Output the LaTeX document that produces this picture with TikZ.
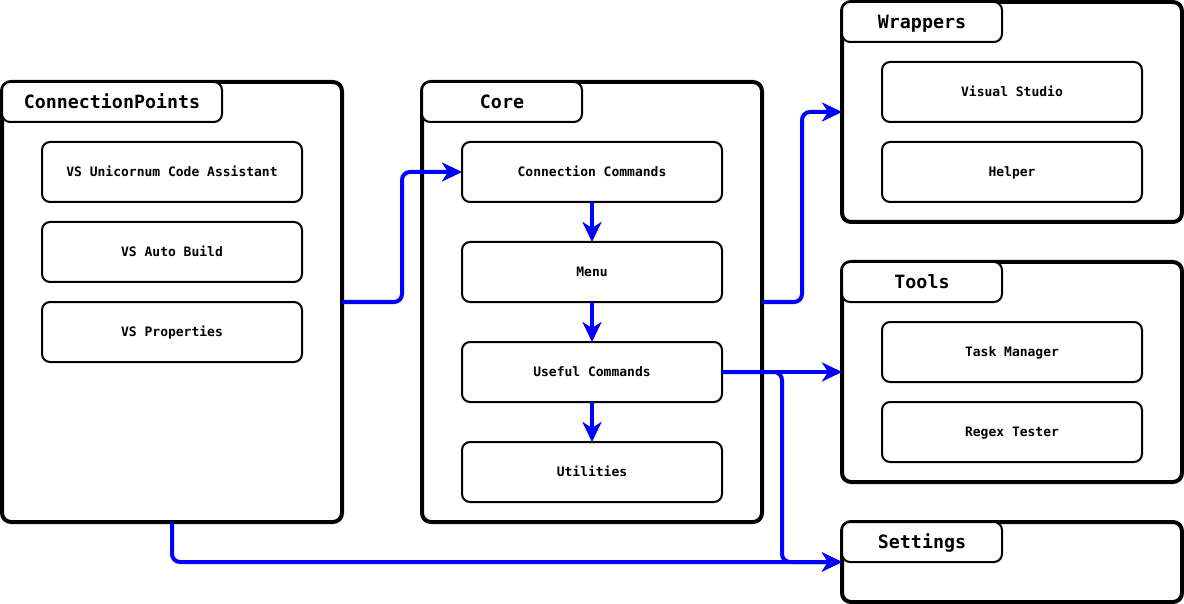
\documentclass[tikz,border=0pt]{standalone}
\usepackage{fontspec}
\newfontfamily\codefont{DejaVu Sans Mono}
\usetikzlibrary{arrows.meta,calc}
\tikzset{
  container/.style={draw=black, line width=4pt, rounded corners=9pt, fill=white, inner sep=0pt, outer sep=0pt},
  titlebox/.style={draw=black, line width=2pt, rounded corners=8pt, fill=white, inner sep=0pt, outer sep=0pt, minimum height=40pt, text height=14.34pt, text depth=1pt, font=\codefont\bfseries\fontsize{18.3pt}{20pt}\selectfont, anchor=north west},
  item/.style={draw=black, line width=2pt, rounded corners=8pt, fill=white, inner sep=0pt, outer sep=0pt, minimum width=260pt, minimum height=60pt, text height=10.48pt, text depth=1pt, font=\codefont\bfseries\fontsize{13pt}{15pt}\selectfont},
  flow/.style={draw=blue, line width=4pt, rounded corners=8pt, -{Stealth[length=20pt,width=19pt,inset=6pt]}},
}
\begin{document}
\begin{tikzpicture}[x=1pt,y=-1pt]
\useasboundingbox (0,0) rectangle (1184,604);
% containers
\node[container, minimum width=340pt, minimum height=440pt] (cp) at (172,302) {};
\node[container, minimum width=340pt, minimum height=440pt] (core) at (592,302) {};
\node[container, minimum width=340pt, minimum height=220pt] (wr) at (1012,112) {};
\node[container, minimum width=340pt, minimum height=220pt] (tl) at (1012,372) {};
\node[container, minimum width=340pt, minimum height=80pt] (st) at (1012,562) {};
% titles
\node[titlebox, minimum width=220pt] (cpt) at (cp.north west) {ConnectionPoints};
\node[titlebox, minimum width=160pt] (coret) at (core.north west) {Core};
\node[titlebox, minimum width=160pt] (wrt) at (wr.north west) {Wrappers};
\node[titlebox, minimum width=160pt] (tlt) at (tl.north west) {Tools};
\node[titlebox, minimum width=160pt] (stt) at (st.north west) {Settings};
% items
\node[item] (vsu) at (172,172) {VS Unicornum Code Assistant};
\node[item] (vsa) at (172,252) {VS Auto Build};
\node[item] (vsp) at (172,332) {VS Properties};
\node[item] (cc) at (592,172) {Connection Commands};
\node[item] (menu) at (592,272) {Menu};
\node[item] (uc) at (592,372) {Useful Commands};
\node[item] (ut) at (592,472) {Utilities};
\node[item] (vs) at (1012,92) {Visual Studio};
\node[item] (hl) at (1012,172) {Helper};
\node[item] (tm) at (1012,352) {Task Manager};
\node[item] (rt) at (1012,432) {Regex Tester};
% connectors
\draw[flow] (cp.east) -- ++(60,0) |- (cc.west);
\draw[flow] (core.east) -- ++(40,0) |- (wr.west);
\draw[flow] (uc.east) -- (tl.west);
\draw[flow] (uc.east) -- ++(60,0) |- (st.west);
\draw[flow] (cp.south) |- (st.west);
\draw[flow] (cc.south) -- (menu.north);
\draw[flow] (menu.south) -- (uc.north);
\draw[flow] (uc.south) -- (ut.north);
\end{tikzpicture}
\end{document}
